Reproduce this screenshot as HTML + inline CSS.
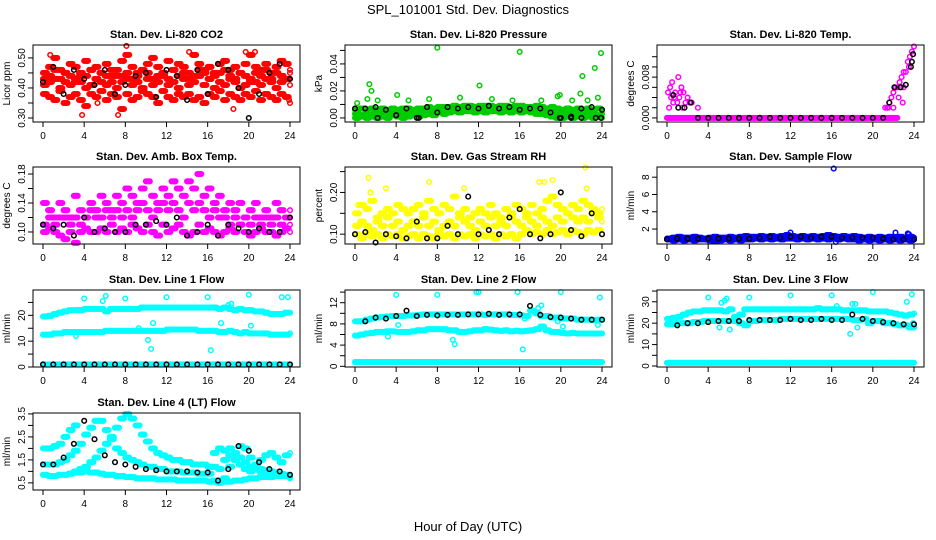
<!DOCTYPE html>
<html><head><meta charset="utf-8"><style>
html,body{margin:0;padding:0;background:#fff;}
svg{display:block;font-family:"Liberation Sans",Arial,sans-serif;}
</style></head><body>
<svg id="chart" width="936" height="540" viewBox="0 0 936 540" xmlns="http://www.w3.org/2000/svg">
<rect x="0" y="0" width="936" height="540" fill="#fff"/>
<text x="468" y="14" text-anchor="middle" font-size="13">SPL_101001  Std. Dev. Diagnostics</text>
<text x="468" y="531" text-anchor="middle" font-size="13">Hour of Day (UTC)</text>
</svg>
<script>
const T=[0,0.5,1,1.5,2,2.5,3,3.5,4,4.5,5,5.5,6,6.5,7,7.5,8,8.5,9,9.5,10,10.5,11,11.5,12,12.5,13,13.5,14,14.5,15,15.5,16,16.5,17,17.5,18,18.5,19,19.5,20,20.5,21,21.5,22,22.5,23,23.5,24];
const H=[0,1,2,3,4,5,6,7,8,9,10,11,12,13,14,15,16,17,18,19,20,21,22,23,24];
const xTicks=[0,4,8,12,16,20,24];

// CO2
const co2R1=[0.45,0.47,0.50,0.46,0.45,0.48,0.47,0.44,0.49,0.46,0.47,0.45,0.48,0.46,0.44,0.49,0.51,0.47,0.45,0.46,0.48,0.50,0.47,0.45,0.49,0.46,0.48,0.47,0.45,0.51,0.48,0.46,0.47,0.45,0.48,0.49,0.46,0.47,0.45,0.48,0.51,0.47,0.46,0.48,0.45,0.47,0.49,0.48,0.46];
const co2R2=[0.41,0.42,0.43,0.40,0.42,0.41,0.43,0.42,0.40,0.41,0.43,0.42,0.41,0.44,0.40,0.42,0.43,0.41,0.42,0.40,0.43,0.41,0.42,0.44,0.41,0.42,0.40,0.43,0.41,0.42,0.44,0.41,0.43,0.40,0.42,0.41,0.43,0.42,0.40,0.41,0.43,0.42,0.41,0.43,0.42,0.40,0.42,0.43,0.41];
const co2R3=[0.38,0.37,0.36,0.39,0.35,0.37,0.38,0.36,0.34,0.38,0.37,0.39,0.36,0.38,0.37,0.33,0.38,0.36,0.37,0.39,0.38,0.37,0.35,0.39,0.37,0.36,0.38,0.37,0.38,0.36,0.37,0.35,0.38,0.37,0.39,0.36,0.38,0.37,0.36,0.38,0.37,0.39,0.36,0.38,0.37,0.36,0.38,0.37,0.35];
const co2R4=[0.43,0.44,0.46,0.43,0.45,0.44,0.42,0.45,0.44,0.46,0.43,0.45,0.44,0.42,0.46,0.44,0.45,0.43,0.44,0.46,0.45,0.43,0.44,0.45,0.43,0.46,0.44,0.45,0.43,0.44,0.46,0.45,0.43,0.44,0.45,0.46,0.44,0.43,0.45,0.44,0.42,0.45,0.44,0.46,0.43,0.45,0.44,0.43,0.45];
const co2OutX=[3.8,7.3,8.1,0.7,14.2,19.7,20.6,18.5,23.9,5.3];
const co2OutY=[0.31,0.31,0.54,0.51,0.52,0.52,0.52,0.33,0.36,0.35];
const co2Blk=[0.42,0.47,0.38,0.46,0.43,0.41,0.46,0.38,0.41,0.44,0.45,0.37,0.46,0.44,0.36,0.46,0.38,0.48,0.46,0.40,0.30,0.38,0.45,0.48,0.43];

// Pressure
const prG1=[0.006,0.007,0.006,0.007,0.006,0.007,0.006,0.007,0.006,0.007,0.007,0.006,0.007,0.007,0.008,0.007,0.008,0.008,0.008,0.009,0.008,0.009,0.009,0.008,0.009,0.009,0.009,0.008,0.009,0.009,0.008,0.009,0.009,0.008,0.008,0.009,0.008,0.007,0.008,0.007,0.006,0.007,0.006,0.007,0.006,0.007,0.006,0.007,0.006];
const prG2=[0.003,0.002,0.004,0.003,0.002,0.003,0.004,0.003,0.002,0.004,0.003,0.004,0.003,0.004,0.005,0.004,0.005,0.006,0.005,0.006,0.006,0.007,0.006,0.007,0.006,0.007,0.006,0.007,0.006,0.006,0.007,0.006,0.007,0.006,0.005,0.006,0.005,0.004,0.005,0.004,0.002,0.003,0.004,0.003,0.002,0.004,0.003,0.002,0.003];
const prG3=[0.000,0.001,0.000,0.001,0.000,0.001,0.000,0.002,0.001,0.000,0.001,0.002,0.001,0.002,0.003,0.002,0.004,0.003,0.004,0.005,0.004,0.005,0.005,0.004,0.005,0.004,0.005,0.005,0.004,0.005,0.004,0.005,0.004,0.005,0.004,0.003,0.003,0.002,0.001,0.000,0.000,0.001,0.000,0.001,0.000,0.001,0.000,0.001,0.000];
const prOutX=[0.2,1.2,1.4,1.6,2.2,4.1,5.2,7.2,8.0,10.2,12.1,13.3,15.3,16.0,18.1,19.7,19.9,21.1,21.9,22.1,22.6,23.3,23.6,23.9];
const prOutY=[0.011,0.014,0.025,0.020,0.013,0.017,0.013,0.014,0.052,0.015,0.024,0.014,0.013,0.049,0.013,0.016,0.017,0.013,0.018,0.031,0.013,0.037,0.015,0.048];
const prBlk=[0.007,0.007,0.008,0.006,0.002,0.007,0.000,0.008,0.004,0.008,0.007,0.008,0.007,0.009,0.007,0.008,0.006,0.007,0.007,0.004,0.000,0.001,0.007,0.008,0.006];
const prBlkX2=[2.2,4,6.2,19.9,21,22,23.4,23.9];
const prBlkY2=[0,0.002,0,0,0,0,0,0];

// Li-820 Temp
const tpZero=[0,0,0,0,0,0,0,0,0,0,0,0,0,0,0,0,0,0,0,0,0,0,0,0,0,0,0,0,0,0,0,0,0,0,0,0,0,0,0,0,0,0,0,0,0,null,null,null,null];
const tpEarlyX=[0.1,0.2,0.4,0.5,0.6,0.8,1.0,1.1,1.2,1.4,1.5,1.6,1.8,2.0,2.2,2.4,3.0,0.3,0.7,1.3];
const tpEarlyY=[0.005,0.002,0.004,0.007,0.003,0.005,0.003,0.008,0.004,0.006,0.002,0.005,0.003,0.004,0.003,0.003,0.002,0.006,0.004,0.005];
const tpRampX=[21.2,21.4,21.6,21.8,22.0,22.2,22.4,22.6,22.8,23.0,23.2,23.4,23.6,23.8,24.0,21.5,22.0,22.5,23.0,23.5,22.9];
const tpRampY=[0.002,0.002,0.003,0.004,0.005,0.006,0.006,0.007,0.008,0.009,0.009,0.011,0.012,0.013,0.014,0.002,0.002,0.004,0.006,0.010,0.003];
const tpBlkX=[0.6,1.1,1.7,2.3,3,4,5,6,7,8,9,10,11,12,13,14,15,16,17,18,19,20,21,21.6,22.1,22.7,23.2,23.7,23.8,23.9];
const tpBlkY=[0.0045,0.002,0.002,0.003,0,0,0,0,0,0,0,0,0,0,0,0,0,0,0,0,0,0,0,0.003,0.006,0.006,0.0065,0.010,0.011,0.0125];

// Amb box temp
const amM1=[0.14,0.13,0.12,0.14,0.13,0.12,0.15,0.13,0.12,0.14,0.13,0.15,0.14,0.13,0.15,0.14,0.16,0.15,0.14,0.16,0.17,0.15,0.14,0.16,0.15,0.17,0.16,0.15,0.17,0.16,0.18,0.15,0.16,0.14,0.15,0.13,0.14,0.13,0.14,0.12,0.13,0.14,0.12,0.13,0.12,0.14,0.13,0.12,0.13];
const amM2=[0.11,0.12,0.11,0.12,0.12,0.11,0.12,0.11,0.12,0.13,0.12,0.12,0.13,0.12,0.13,0.12,0.13,0.12,0.13,0.14,0.13,0.12,0.13,0.14,0.13,0.14,0.13,0.12,0.14,0.13,0.14,0.13,0.12,0.13,0.12,0.12,0.11,0.12,0.11,0.12,0.11,0.12,0.11,0.12,0.11,0.12,0.11,0.12,0.11];
const amM3=[0.10,0.105,0.10,0.095,0.09,0.10,0.085,0.10,0.105,0.10,0.10,0.105,0.10,0.11,0.10,0.105,0.10,0.11,0.105,0.10,0.11,0.10,0.095,0.11,0.10,0.105,0.11,0.10,0.095,0.10,0.11,0.10,0.105,0.10,0.095,0.10,0.105,0.10,0.11,0.10,0.095,0.10,0.105,0.10,0.10,0.095,0.10,0.105,0.10];
const amBlk=[0.11,0.105,0.11,0.095,0.12,0.10,0.105,0.10,0.10,0.11,0.11,0.115,0.11,0.12,0.095,0.10,0.11,0.095,0.11,0.105,0.10,0.105,0.10,0.10,0.12];

// Gas stream RH
const rhY1=[0.15,0.17,0.16,0.18,0.14,0.15,0.16,0.15,0.17,0.16,0.15,0.16,0.17,0.15,0.18,0.16,0.15,0.17,0.16,0.19,0.15,0.16,0.14,0.15,0.16,0.15,0.17,0.15,0.14,0.16,0.15,0.17,0.16,0.15,0.17,0.15,0.16,0.18,0.19,0.17,0.16,0.15,0.17,0.16,0.18,0.17,0.16,0.15,0.16];
const rhY2=[0.12,0.13,0.12,0.11,0.13,0.12,0.14,0.12,0.13,0.11,0.12,0.13,0.12,0.14,0.12,0.13,0.11,0.12,0.13,0.12,0.14,0.13,0.12,0.11,0.13,0.12,0.14,0.12,0.13,0.12,0.14,0.13,0.12,0.14,0.13,0.12,0.14,0.13,0.12,0.14,0.13,0.15,0.14,0.13,0.14,0.13,0.15,0.14,0.13];
const rhY3=[0.10,0.09,0.10,0.095,0.10,0.09,0.10,0.095,0.10,0.09,0.095,0.10,0.09,0.10,0.095,0.09,0.10,0.095,0.10,0.09,0.10,0.095,0.10,0.09,0.10,0.095,0.10,0.09,0.10,0.095,0.10,0.09,0.10,0.11,0.10,0.105,0.10,0.11,0.10,0.105,0.11,0.10,0.11,0.105,0.10,0.11,0.105,0.11,0.10];
const rhOutX=[1.3,1.5,3.0,7.2,10.6,17.9,18.4,19.2,22.5,22.4,0.3];
const rhOutY=[0.235,0.20,0.21,0.225,0.21,0.225,0.225,0.23,0.21,0.26,0.17];
const rhBlk=[0.10,0.105,0.08,0.10,0.095,0.09,0.13,0.09,0.09,0.12,0.10,0.19,0.10,0.11,0.10,0.14,0.16,0.10,0.09,0.10,0.20,0.11,0.095,0.15,0.10];

// Sample flow
const sfB1=[0.9,1.0,1.1,1.0,1.0,1.1,1.0,0.9,1.0,1.1,1.0,1.0,1.1,1.0,1.1,1.2,1.1,1.1,1.2,1.1,1.2,1.1,1.2,1.3,1.2,1.1,1.2,1.1,1.2,1.1,1.2,1.3,1.2,1.1,1.2,1.1,1.2,1.1,1.0,1.1,1.0,1.1,1.0,1.1,1.0,1.1,1.0,1.1,1.0];
const sfB2=[0.8,0.7,0.8,0.7,0.8,0.7,0.8,0.8,0.7,0.6,0.7,0.8,0.7,0.8,0.7,0.8,0.8,0.9,0.8,0.9,0.8,0.9,0.8,0.9,0.9,0.8,0.9,0.8,0.9,0.8,0.9,0.8,0.9,0.8,0.9,0.8,0.8,0.7,0.8,0.7,0.8,0.7,0.8,0.7,0.8,0.7,0.8,0.7,0.8];
const sfOutX=[12,16.2,16.4,22.2,23.4,23.5];
const sfOutY=[1.6,9.0,0.5,1.6,1.5,1.4];
const sfBlk=[0.8,0.9,0.9,0.9,0.9,0.9,0.9,0.9,0.9,1.0,1.1,1.0,1.1,1.1,1.0,1.1,1.1,1.0,1.0,1.0,1.0,0.9,0.8,0.8,0.8];

// Line 1 flow
const l1A=[19.5,19.8,20.5,21,21.5,22,22,22,22.5,22.5,22.5,22.5,21.5,22.5,22.5,22.5,22.5,22.5,22.5,23,23,23,23,23,23,23,23,23,23,23,23,23,23,23,22.5,23,22.5,22,22.5,22,22,21.5,21.5,21,20.5,20.5,20.5,21,21];
const l1B=[12.5,12.5,13,13,13.5,13.5,13.5,13.5,13.5,13.5,13.5,13.5,14,14,14,14,14,14,14,14,14,14,14,14,14.5,14.5,14.5,14.5,14.5,14.5,14,14,14,14,13.5,13.5,14,13.5,13,13.5,13,13,13,13,12.5,12.5,12.5,12.5,13];
const l1C=[1,1,1,1,1,1,1,1,1,1,1,1,1,1,1,1,1,1,1,1,1,1,1,1,1,1,1,1,1,1,1,1,1,1,1,1,1,1,1,1,1,1,1,1,1,1,1,1,1];
const l1OutX=[4,5.8,6.1,8,9.3,10.2,10.5,10.7,12,16,16.3,16.8,17.3,18,18.3,20,20.2,23.2,23.8,3.2];
const l1OutY=[26.5,25.5,27.5,26.5,15,10.5,7,17,27,27,6.5,23,17,24,24.5,28,16,27,27,12];
const l1Blk=[1,1,1,1,1,1,1,1,1,1,1,1,1,1,1,1,1,1,1,1,1,1,1,1,1];

// Line 2 flow
const l2A=[8.5,8.5,8.8,9,9.2,9.3,9.4,9.5,9.5,9.5,9.6,9.6,9.7,9.8,9.8,9.8,9.8,9.8,9.8,9.8,9.8,9.8,9.8,9.8,9.8,9.7,9.8,9.8,9.8,9.8,9.7,9.7,9.6,9.5,10.5,10,9.5,9.5,9.2,9.2,9,9,9,8.8,8.8,8.8,8.7,8.8,8.8];
const l2B=[5.8,6,6.2,6.3,6.5,6.5,6.6,6.6,6.5,6.5,6.5,6.6,6.8,6.8,7,7,7,7,6.8,6.8,6.5,6.5,6.6,6.8,6.8,7,6.9,6.8,6.7,6.8,6.6,6.7,6.6,6.7,6.8,7,7.5,6.8,6.5,6.5,6.3,6.2,6.3,6.2,6.2,6.2,6.2,6.2,6.2];
const l2C=[0.8,0.8,0.8,0.8,0.8,0.8,0.8,0.8,0.8,0.8,0.8,0.8,0.8,0.8,0.8,0.8,0.8,0.8,0.8,0.8,0.8,0.8,0.8,0.8,0.8,0.8,0.8,0.8,0.8,0.8,0.8,0.8,0.8,0.8,0.8,0.8,0.8,0.8,0.8,0.8,0.8,0.8,0.8,0.8,0.8,0.8,0.8,0.8,0.8];
const l2OutX=[4,4.2,8,11.8,12,15.8,16.3,16.5,17.8,18.1,19.7,20,20.2,23.6,23.8,9.5,9.7,3.2];
const l2OutY=[13.5,7.8,13.5,14,14,14,3.2,9,11,11.5,8.5,14,7.5,7.8,13,5,4.2,5.6];
const l2Blk=[null,8.5,9.2,9.0,9.5,10.5,9.5,9.7,9.6,9.7,9.7,9.8,9.8,9.9,9.7,9.8,9.8,11.4,9.7,9.3,9.2,9.0,8.8,8.8,8.8];

// Line 3 flow
const l3A=[22,22.5,23,24,25,25.5,25.5,26,26,26,26,25.5,26.5,23,24,26.5,26.5,26.5,26.5,26.5,26.5,26.5,26.5,26.5,26.5,26.5,26.5,26.5,26.5,27,26.5,26.5,26.5,26.5,26,26,26,26,26,25.5,25.5,25.5,25.5,25,24.5,24,23.5,24,24.5];
const l3B=[19.5,19.5,20,20,20,20.5,20.5,21,21,21,21,21,21,21,20,19,21,21,21.5,21.5,21.5,21.5,22,22,22,22,22,22,22,22,22,22,22,22,22,22,21.5,21.5,22,20,21,21,20,20,19.5,19,19,18,18];
const l3C=[1.5,1.5,1.5,1.5,1.5,1.5,1.5,1.5,1.5,1.5,1.5,1.5,1.5,1.5,1.5,1.5,1.5,1.5,1.5,1.5,1.5,1.5,1.5,1.5,1.5,1.5,1.5,1.5,1.5,1.5,1.5,1.5,1.5,1.5,1.5,1.5,1.5,1.5,1.5,1.5,1.5,1.5,1.5,1.5,1.5,1.5,1.5,1.5,1.5];
const l3OutX=[4,5.3,5.6,5.8,6.1,8,12,16,16.5,17.8,18,18.3,18.5,20,23.3,23.8,23.9,5.1];
const l3OutY=[32,29.5,30.5,31.5,17,32,33,33,28,15,29,29,18,34.5,30,33.5,20,18];
const l3Blk=[null,19,20,20,20.5,21,21,21,21.5,21.5,21.5,21.5,22,21.5,21.5,22,21.5,21.5,24,22,21,20.5,20,19.5,19.5];

// Line 4 (LT) flow
const l4C1=[0.85,0.8,0.8,0.85,0.85,0.9,0.95,0.95,1.0,0.95,0.95,0.9,0.85,0.85,0.8,0.8,0.75,0.75,0.7,0.7,0.7,0.7,0.65,0.65,0.65,0.65,0.6,0.6,0.6,0.6,0.6,0.6,0.55,0.55,0.5,0.55,0.55,0.6,0.6,0.65,0.7,0.7,0.75,0.75,0.75,0.8,0.8,0.8,0.75];
const l4C3=[1.3,1.3,1.3,1.4,1.5,1.7,1.9,2.2,2.6,2.9,3.2,3.2,2.8,2.4,2.0,1.8,1.6,1.5,1.4,1.3,1.2,1.2,1.1,1.1,1.0,1.0,1.0,0.95,0.95,0.95,0.9,0.9,0.9,0.6,0.6,0.7,1.2,1.6,2.1,2.0,1.6,1.3,1.1,1.05,1.0,0.95,0.9,0.85,0.8];
const l4C2=[null,null,null,null,null,0.9,1.0,1.1,1.2,1.4,1.6,1.9,2.2,2.5,2.9,3.3,3.5,3.3,3.0,2.6,2.3,2.0,1.8,1.7,1.6,1.5,1.5,1.4,1.4,1.3,1.3,1.3,1.2,1.2,1.1,1.5,2.0,1.8,1.6,1.4,1.2,1.1,1.0,1.0,0.9,0.9,0.8,0.8,0.7];
const l4C4=[2.0,2.0,2.1,2.2,2.5,2.8,3.0,null,null,null,null,null,null,null,null,null,null,null,null,null,null,null,null,null,null,null,null,null,null,null,null,null,1.2,1.8,2.0,1.9,1.7,1.5,1.3,1.1,1.0,1.2,1.5,1.7,1.8,1.6,1.4,1.7,1.8];
const l4Blk=[1.3,1.3,1.6,2.2,3.2,2.4,1.7,1.4,1.3,1.2,1.1,1.05,1.0,1.0,1.0,0.95,0.95,0.6,1.1,2.1,1.9,1.4,1.1,1.0,0.85];

const NS='http://www.w3.org/2000/svg';
const svg=document.getElementById('chart');
function mk(tag,attrs,parent){const e=document.createElementNS(NS,tag);for(const k in attrs)e.setAttribute(k,attrs[k]);(parent||svg).appendChild(e);return e;}

const colX0=[43,355,667];
const rowTop=[45,167,290,413];
const PW=247, PH=77;
// sub-bin offsets (hours) used to render each half-hour bin's samples
const BIN_OFFSETS=[0,0.125,0.25,0.375];

function panel(name,title,ylab,col,row,lo,hi,ticks,labels,series){
  const g=mk('g',{});
  
  
  const x0=colX0[col], top=rowTop[row], bot=top+PH;
  const left=x0-10, right=x0+PW+10;
  const sx=v=>x0+v/24*PW;
  const sy=v=>bot-(v-lo)/(hi-lo)*PH;
  const t=mk('text',{x:(left+right)/2,y:top-7,'text-anchor':'middle','font-size':'11','font-weight':'bold'},g);
  t.textContent=title;
  
  
  series.forEach(s=>{
    const n=Math.min(s.x.length,s.y.length);
    const offs=s.band?BIN_OFFSETS:[0];
    for(let i=0;i<n;i++){
      if(s.y[i]===null||s.x[i]===null)continue;
      offs.forEach(o=>{
        const xv=s.x[i]+o; if(xv>24.05)return;
        const c=mk('circle',{cx:sx(xv).toFixed(1),cy:sy(s.y[i]).toFixed(1),r:2.3,fill:'none',stroke:s.c,'stroke-width':1.5},g);
        
        
      });
    }
  });
  const box=mk('rect',{x:left,y:top,width:right-left,height:PH,fill:'none',stroke:'#000','stroke-width':1},g);
  
  
  xTicks.forEach(v=>{
    mk('line',{x1:sx(v),x2:sx(v),y1:bot,y2:bot+5,stroke:'#000'},g);
    const l=mk('text',{x:sx(v),y:bot+17,'text-anchor':'middle','font-size':'10'},g);
    l.textContent=v;
    
    
  });
  ticks.forEach((v,i)=>{
    const y=sy(v);
    mk('line',{x1:left-5,x2:left,y1:y,y2:y,stroke:'#000'},g);
    if(labels[i]){
      const l=mk('text',{x:left-8,y:y,'text-anchor':'middle','font-size':'10',transform:`rotate(-90 ${left-8} ${y})`},g);
      l.textContent=labels[i];
      
      
    }
  });
  const yt=mk('text',{x:left-23,y:(top+bot)/2,'text-anchor':'middle','font-size':'10',transform:`rotate(-90 ${left-23} ${(top+bot)/2})`},g);
  yt.textContent=ylab;
  
  
}
const R='#ff0000',G='#00cd00',M='#ff00ff',Y='#ffff00',B='#0000ff',C='#00ffff',K='#000000';
panel('co2','Stan. Dev. Li-820 CO2','Licor ppm',0,0,0.2867,0.543,[0.30,0.35,0.40,0.45,0.50],['0.30','','0.40','','0.50'],
 [{x:T,y:co2R1,c:R,band:1},{x:T,y:co2R2,c:R,band:1},{x:T,y:co2R3,c:R,band:1},{x:T,y:co2R4,c:R,band:1},{x:co2OutX,y:co2OutY,c:R},{x:H,y:co2Blk,c:K}]);
panel('pressure','Stan. Dev. Li-820 Pressure','kPa',1,0,-0.003,0.054,[0,0.01,0.02,0.03,0.04,0.05],['0.00','','0.02','','0.04',''],
 [{x:T,y:prG1,c:G,band:1},{x:T,y:prG2,c:G,band:1},{x:T,y:prG3,c:G,band:1},{x:prOutX,y:prOutY,c:G},{x:H,y:prBlk,c:K},{x:prBlkX2,y:prBlkY2,c:K}]);
panel('li820-temp','Stan. Dev. Li-820 Temp.','degrees C',2,0,-0.0008,0.0143,[0,0.002,0.004,0.006,0.008,0.010,0.012],['0.000','','','','0.008','',''],
 [{x:T,y:tpZero,c:M,band:1},{x:tpEarlyX,y:tpEarlyY,c:M},{x:tpRampX,y:tpRampY,c:M},{x:tpBlkX,y:tpBlkY,c:K}]);
panel('amb-box-temp','Stan. Dev. Amb. Box Temp.','degrees C',0,1,0.0834,0.1897,[0.10,0.12,0.14,0.16,0.18],['0.10','','0.14','','0.18'],
 [{x:T,y:amM1,c:M,band:1},{x:T,y:amM2,c:M,band:1},{x:T,y:amM3,c:M,band:1},{x:H,y:amBlk,c:K}]);
panel('gas-rh','Stan. Dev. Gas Stream RH','percent',1,1,0.0764,0.261,[0.10,0.15,0.20,0.25],['0.10','','0.20',''],
 [{x:T,y:rhY1,c:Y,band:1},{x:T,y:rhY2,c:Y,band:1},{x:T,y:rhY3,c:Y,band:1},{x:rhOutX,y:rhOutY,c:Y},{x:H,y:rhBlk,c:K}]);
panel('sample-flow','Stan. Dev. Sample Flow','ml/min',2,1,0.27,9.18,[2,4,6,8],['2','4','6','8'],
 [{x:T,y:sfB1,c:B,band:1},{x:T,y:sfB2,c:B,band:1},{x:sfOutX,y:sfOutY,c:B},{x:H,y:sfBlk,c:K}]);
panel('line1-flow','Stan. Dev. Line 1 Flow','ml/min',0,2,0,29.8,[0,5,10,15,20,25],['0','','10','','20',''],
 [{x:T,y:l1A,c:C,band:1},{x:T,y:l1B,c:C,band:1},{x:T,y:l1C,c:C,band:1},{x:l1OutX,y:l1OutY,c:C},{x:H,y:l1Blk,c:K}]);
panel('line2-flow','Stan. Dev. Line 2 Flow','ml/min',1,2,-0.13,14.4,[0,2,4,6,8,10,12,14],['0','','4','','8','','12',''],
 [{x:T,y:l2A,c:C,band:1},{x:T,y:l2B,c:C,band:1},{x:T,y:l2C,c:C,band:1},{x:l2OutX,y:l2OutY,c:C},{x:H,y:l2Blk,c:K}]);
panel('line3-flow','Stan. Dev. Line 3 Flow','ml/min',2,2,-0.47,35.5,[0,5,10,15,20,25,30,35],['0','','10','','20','','30',''],
 [{x:T,y:l3A,c:C,band:1},{x:T,y:l3B,c:C,band:1},{x:T,y:l3C,c:C,band:1},{x:l3OutX,y:l3OutY,c:C},{x:H,y:l3Blk,c:K}]);
panel('line4-flow','Stan. Dev. Line 4 (LT) Flow','ml/min',0,3,0.19,3.54,[0.5,1,1.5,2,2.5,3,3.5],['0.5','','1.5','','2.5','','3.5'],
 [{x:T,y:l4C1,c:C,band:1},{x:T,y:l4C2,c:C,band:1},{x:T,y:l4C3,c:C,band:1},{x:T,y:l4C4,c:C,band:1},{x:H,y:l4Blk,c:K}]);
</script>
</body></html>
